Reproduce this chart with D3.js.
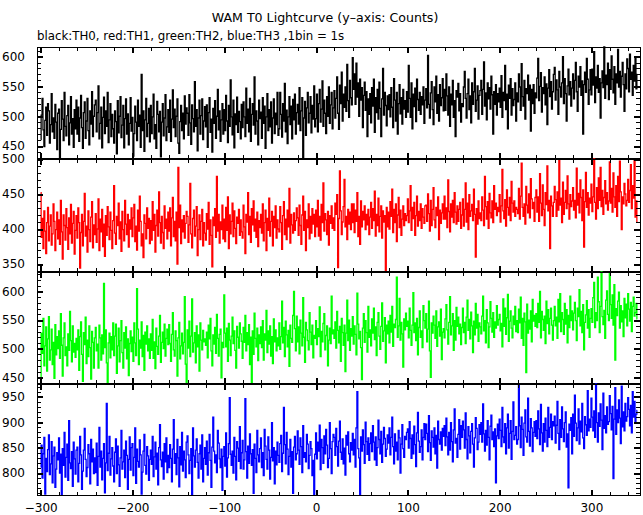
<!DOCTYPE html>
<html><head><meta charset="utf-8">
<script src="https://cdn.jsdelivr.net/npm/d3@7"></script>
<style>body{margin:0;background:#fff}svg{display:block}</style>
</head><body><svg id="c" width="643" height="515"></svg>
<script>
const TITLE = "WAM T0 Lightcurve (y\u2013axis: Counts)";
const SUBTITLE = "black:TH0, red:TH1, green:TH2, blue:TH3 ,1bin = 1s";
const binStart = -300; // first bin time (s), 1 bin = 1 s
const xMajorTicks = [-300, -200, -100, 0, 100, 200, 300];
const seriesNames = ["TH0", "TH1", "TH2", "TH3"];
const seriesColors = ["#000000", "#ff0000", "#00ff00", "#0000ff"];
const yMajorTicks = [[450, 500, 550, 600], [350, 400, 450, 500], [450, 500, 550, 600], [800, 850, 900, 950]];

const th0 = [
461,502,530,477,449,493,515,468,521,509,455,486,538,474,497,463,520,490,444,505,
512,431,478,526,495,459,540,483,467,501,518,452,489,533,470,496,448,511,479,527,
470,515,458,497,535,481,446,506,524,463,492,530,476,452,509,487,541,466,500,519,
527,474,506,551,462,488,515,447,498,532,471,509,483,540,456,494,521,466,503,479,
455,509,491,437,526,472,500,533,464,485,518,447,496,529,470,504,452,488,531,475,
498,433,471,517,490,459,527,483,502,448,570,476,509,441,494,530,466,488,513,457,
518,471,499,537,462,486,446,525,503,474,508,432,490,521,467,497,536,459,482,511,
473,527,458,495,544,481,512,466,500,529,455,438,491,518,476,505,462,534,487,514,
505,468,536,489,453,519,496,474,558,483,511,442,497,527,470,501,529,461,492,516,
482,519,448,506,531,473,495,440,513,488,526,463,500,545,477,509,458,494,521,470,
511,476,535,492,456,518,483,561,499,469,527,447,504,486,532,473,508,491,462,520,
481,524,499,466,547,488,512,474,530,458,503,521,485,566,470,509,492,452,527,496,
507,463,531,488,517,446,499,538,476,511,482,524,455,497,529,471,505,486,540,468,
479,540,503,465,521,492,555,474,510,454,499,533,486,517,462,528,494,537,470,506,
520,487,548,476,509,531,430,497,525,468,514,540,489,505,533,472,518,495,551,482,
496,537,474,521,545,490,512,559,483,527,505,471,533,500,549,488,519,540,479,514,
543,497,530,566,505,478,552,521,574,492,537,515,549,508,587,526,498,560,531,519,
598,545,571,520,589,532,556,500,562,527,548,481,535,557,510,541,466,529,503,538,
489,548,517,562,473,531,506,545,495,557,513,466,529,580,502,540,518,484,534,511,
536,499,548,515,481,563,527,492,540,470,521,553,504,531,487,545,512,526,498,541,
507,585,530,498,556,479,537,516,547,491,562,528,510,540,503,533,519,549,488,527,
546,514,602,520,497,539,558,511,486,549,524,567,505,536,492,553,518,531,563,509,
545,510,571,534,502,549,483,537,519,560,498,526,466,543,532,555,509,538,490,521,
516,549,575,530,497,538,562,511,534,489,556,520,541,580,508,527,551,495,535,543,
560,503,545,591,517,539,494,556,529,548,512,567,536,470,541,520,553,502,538,524,
547,515,568,498,540,526,585,511,537,479,552,530,563,502,546,518,528,556,492,539,
524,571,549,510,588,533,517,560,495,546,538,569,527,552,475,545,521,553,505,539,
531,564,597,526,550,573,507,548,538,566,519,554,486,547,578,533,558,512,541,570,
582,527,561,544,503,575,549,532,556,600,521,563,538,492,551,579,536,558,517,547,
571,529,560,590,541,508,567,549,583,535,559,470,553,574,540,597,562,520,544,578,
536,579,552,608,523,566,547,585,540,563,497,556,576,548,616,530,569,553,589,528,
578,545,601,562,539,583,520,571,556,612,549,575,532,567,590,553,508,571,546,596,
580,541,604,562,574,535,585,559,599,546,570
];

const th1 = [
452,388,415,372,426,397,365,409,431,383,404,420,377,393,436,411,369,399,424,386,
413,378,441,396,357,420,405,384,429,402,371,416,393,435,380,408,425,364,398,419,
387,430,409,344,395,421,376,411,451,390,404,367,426,399,382,417,439,373,406,392,
422,381,400,443,369,414,396,428,375,407,361,419,391,432,403,385,424,398,372,412,
462,394,378,418,405,437,386,410,368,425,399,383,441,407,392,421,374,413,400,430,
389,416,435,382,404,370,427,397,447,411,376,393,359,420,408,386,430,401,415,379,
412,384,439,398,421,367,405,427,390,453,409,380,418,395,372,433,401,414,386,424,
397,430,376,416,445,389,411,383,424,350,488,402,434,379,413,396,419,387,408,425,
418,381,406,465,393,373,415,427,390,404,432,362,399,420,385,411,428,376,409,394,
384,422,400,438,378,413,391,346,417,405,429,388,475,397,421,380,410,399,434,386,
414,382,431,398,446,372,420,393,411,437,389,426,401,379,417,408,428,391,413,396,
387,434,403,365,421,410,452,392,418,381,429,406,440,397,414,388,424,375,412,402,
421,394,436,383,409,427,369,415,398,444,390,411,425,376,418,402,433,387,413,400,
396,432,409,371,419,439,392,414,385,427,403,458,380,421,406,394,423,398,412,430,
416,391,434,405,378,420,447,398,425,369,413,402,436,386,418,394,429,407,421,389,
427,403,441,390,418,384,435,409,466,397,422,413,392,425,377,419,408,433,401,416,
398,437,421,449,345,415,483,426,392,410,432,471,403,418,385,428,407,424,399,436,
409,436,395,427,411,452,389,418,378,440,403,425,413,433,399,421,406,428,392,417,
438,401,429,412,454,390,421,405,444,396,418,433,387,426,410,419,340,431,403,424,
400,439,418,457,395,428,409,436,382,420,445,402,427,391,414,433,405,422,412,419,
443,409,426,462,398,431,415,438,391,419,447,404,425,412,436,401,429,417,408,433,
434,411,450,422,397,441,405,428,459,413,402,431,419,446,385,427,408,423,436,414,
447,414,430,402,470,425,396,436,417,441,409,452,424,407,433,411,428,438,401,420,
443,404,428,466,410,437,399,449,418,426,435,412,457,421,360,429,407,440,415,423,
412,446,427,405,475,432,414,439,401,451,423,416,440,409,462,428,437,419,431,425,
449,410,433,485,426,415,442,404,456,431,420,445,412,468,437,424,440,418,431,428,
422,458,414,447,494,431,418,436,407,461,434,423,450,416,472,443,429,438,411,445,
456,424,446,411,479,437,419,463,428,405,452,435,490,426,441,372,447,433,418,438,
461,442,418,453,427,498,434,444,409,467,421,438,455,429,476,436,414,449,432,440,
459,427,441,416,487,434,451,423,470,445,412,456,374,439,481,431,452,420,444,437,
464,425,446,500,438,414,459,429,473,441,488,432,455,421,445,469,436,452,427,440,
496,437,458,424,480,446,431,462,418,475,439,497,453,399,446,436,465,450,433,441,
471,438,455,492,429,462,444,498,417,440,410
];

const th2 = [
445,527,492,553,470,505,538,461,517,556,480,498,534,472,511,448,542,489,521,500,
531,483,561,506,452,519,545,488,503,470,526,497,565,514,477,540,494,509,485,518,
498,533,462,521,547,490,443,528,507,555,474,515,486,540,502,447,530,511,466,519,
537,496,508,466,541,519,480,524,491,614,502,533,475,441,510,527,484,521,498,545,
488,522,543,457,505,536,477,514,549,493,466,528,501,538,482,517,453,509,531,495,
520,478,545,510,488,605,534,472,515,501,547,486,523,462,529,508,540,496,517,483,
526,497,551,483,512,465,536,504,490,522,558,476,511,529,500,543,487,518,534,507,
542,509,478,525,563,498,487,531,514,452,519,546,482,505,527,491,511,591,473,440,
533,501,548,486,522,587,494,510,528,475,540,503,524,461,545,515,498,532,512,517,
506,529,484,541,517,553,496,470,524,508,537,492,560,518,487,525,534,449,511,502,
594,527,503,536,478,544,515,488,522,555,509,531,497,466,539,520,501,545,526,513,
483,537,511,558,496,528,507,542,472,520,441,531,490,562,518,503,536,479,524,509,
538,502,549,480,526,515,567,493,531,508,540,487,521,474,552,512,533,496,519,505,
545,499,521,583,510,537,486,548,524,503,532,469,541,518,511,558,600,535,496,557,
512,538,491,550,527,505,589,520,476,546,533,514,498,563,529,507,541,484,523,518,
549,507,535,521,573,486,530,512,544,561,498,523,540,470,515,536,509,592,526,533,
518,547,501,565,532,510,539,478,553,528,506,541,460,527,585,514,550,497,535,522,
556,508,540,525,489,597,543,517,530,502,446,536,561,511,549,528,494,574,520,533,
505,552,527,571,516,538,488,546,563,522,499,539,580,513,531,554,475,541,526,548,
510,558,529,574,504,543,537,551,625,520,540,588,515,546,526,468,552,533,562,539,
548,519,571,532,506,541,598,528,545,514,553,489,537,566,520,531,502,575,549,536,
561,512,534,583,496,450,545,527,557,541,518,566,504,538,547,522,569,481,529,535,
519,552,577,533,508,546,591,524,540,561,497,549,515,572,539,555,526,543,507,537,
571,528,546,509,555,585,532,551,517,564,540,493,548,524,579,536,560,513,545,538,
526,557,592,531,549,510,568,545,502,538,582,553,529,563,520,547,536,575,541,551,
560,531,544,503,587,539,571,525,554,595,513,548,566,536,519,557,542,574,530,549,
528,569,545,590,518,553,506,562,547,458,578,527,550,534,566,512,586,548,558,539,
561,537,579,546,600,519,565,551,532,557,509,583,544,568,526,553,571,541,515,549,
574,540,555,518,586,547,596,530,563,551,525,579,543,568,510,558,537,592,549,566,
533,562,581,549,514,571,556,603,540,565,528,577,498,546,559,584,536,568,520,553,
570,546,589,616,537,563,549,625,582,528,574,634,556,542,567,518,585,601,560,549,
631,577,553,594,541,612,480,570,558,583,599,536,575,547,566,521,588,554,578,540,
596,569,548,581,530,574,590,557,563,579,552
];

const th3 = [
812,855,790,838,870,759,829,803,846,875,797,818,862,781,834,851,772,808,840,826,
869,800,837,758,848,815,880,792,831,857,786,903,820,809,842,774,861,828,798,845,
851,783,819,872,836,768,804,845,888,827,793,811,856,838,779,866,822,847,799,830,
801,859,776,833,890,812,843,787,829,858,761,820,937,805,839,872,796,828,850,814,
783,841,867,799,853,816,774,830,884,808,822,845,791,863,835,768,827,871,806,850,
858,795,831,889,780,847,823,812,865,836,759,802,843,876,815,798,852,834,786,827,
845,817,872,793,832,861,808,839,777,850,895,826,813,841,788,858,822,869,801,835,
811,856,829,783,847,905,819,838,797,866,830,773,852,816,880,804,843,826,791,861,
873,836,799,825,848,758,889,834,812,845,867,821,790,838,855,808,875,783,829,850,
817,863,796,840,876,825,772,851,910,843,820,836,801,884,859,828,811,847,766,833,
852,814,879,792,830,858,948,837,815,843,800,870,833,787,862,849,823,891,809,840,
864,808,826,946,842,790,853,819,877,838,815,846,760,857,829,801,884,836,822,848,
869,811,840,795,886,853,827,808,871,845,788,831,899,824,850,779,843,816,861,835,
821,858,874,803,839,929,856,818,880,847,797,833,866,812,842,760,851,872,826,838,
883,845,817,869,852,801,893,831,840,822,876,857,809,835,862,848,795,825,758,837,
879,828,861,843,894,807,866,850,819,873,838,886,855,811,829,899,848,799,862,876,
870,835,888,852,814,863,902,841,827,867,818,849,796,874,855,881,838,822,860,845,
878,836,866,812,889,960,848,830,757,871,843,885,856,819,900,862,837,869,825,858,
879,842,893,861,826,871,815,850,904,866,838,882,821,857,890,868,833,847,875,859,
889,836,870,910,852,818,877,843,861,826,884,869,800,857,895,848,831,872,866,880,
887,849,901,868,829,875,838,892,856,813,879,919,863,841,852,885,826,870,897,866,
896,878,842,913,860,825,883,870,851,889,838,874,810,902,866,857,881,845,888,872,
893,854,908,871,836,880,845,899,862,822,885,926,859,868,831,876,905,847,893,870,
902,885,849,918,866,828,891,873,840,882,897,857,812,869,909,888,846,861,895,876,
899,861,936,877,843,884,855,903,870,826,892,914,866,881,852,887,781,873,896,868,
906,884,852,929,871,860,897,838,889,916,849,878,903,827,882,940,866,874,891,857,
866,973,893,850,910,886,835,898,924,871,861,947,882,853,907,889,842,880,901,872,
903,868,922,887,856,935,879,843,897,861,908,884,852,929,870,890,916,866,901,893,
912,859,894,941,878,846,905,870,930,887,862,899,920,851,877,771,896,884,909,838,
916,872,953,898,864,889,926,857,902,881,937,869,848,911,895,874,962,883,906,890,
947,910,883,922,870,975,899,861,918,892,936,904,846,957,888,913,879,930,896,901,
952,917,885,931,789,906,968,876,924,899,944,908,858,971,891,920,883,937,902,911,
948,925,893,933,879,960,910,941,898,916,923
];

const seriesData = [th0, th1, th2, th3];

const FONT = "DejaVu Sans";
const FS = 12;
const svg = d3.select("#c");
const plotLeft = 37, plotRight = 641, plotTop = 47, panelPitch = 112.3;
const x = d3.scaleLinear().domain([-304, 354]).range([plotLeft, plotRight]);
const xMinor = d3.range(-300, 354, 20).filter(v => !xMajorTicks.includes(v));

svg.append("text").attr("x", 325).attr("y", 22).attr("text-anchor", "middle")
  .attr("font-family", FONT).attr("font-size", 12.6).text(TITLE);
svg.append("text").attr("x", 37).attr("y", 40)
  .attr("font-family", FONT).attr("font-size", 11.8).text(SUBTITLE);

function styleAxis(g, width) {
  g.select(".domain").remove();
  g.selectAll("line").attr("stroke-width", width).attr("shape-rendering", "crispEdges");
  g.selectAll("text").attr("font-family", FONT).attr("font-size", FS).attr("fill", "#000");
}

seriesData.forEach((vals, i) => {
  const y0 = Math.round(plotTop + i * panelPitch);
  const y1 = Math.round(plotTop + (i + 1) * panelPitch) - 1;
  const ext = d3.extent(vals);
  const y = d3.scaleLinear().domain(ext).range([y1, y0]);
  const yMinor = d3.range(Math.ceil(ext[0] / 10) * 10, ext[1] + 0.001, 10)
    .filter(v => !yMajorTicks[i].includes(v));
  const g = svg.append("g").attr("class", "panel-" + seriesNames[i]);

  const line = d3.line().x((d, j) => x(binStart + j)).y(d => y(d)).curve(d3.curveStep);
  g.append("path").datum(vals).attr("d", line).attr("fill", "none")
    .attr("stroke", seriesColors[i]).attr("stroke-width", 1.3);

  g.append("rect").attr("x", plotLeft + 0.5).attr("y", y0 + 0.5)
    .attr("width", plotRight - plotLeft - 1).attr("height", y1 - y0)
    .attr("fill", "none").attr("stroke", "#000").attr("stroke-width", 1)
    .attr("shape-rendering", "crispEdges");

  g.append("g").attr("transform", `translate(${plotLeft},0)`)
    .call(d3.axisLeft(y).tickValues(yMajorTicks[i]).tickSize(-6).tickPadding(12).tickFormat(d3.format("d")))
    .call(a => styleAxis(a, 2));
  g.append("g").attr("transform", `translate(${plotLeft},0)`)
    .call(d3.axisLeft(y).tickValues(yMinor).tickSize(-4).tickFormat(""))
    .call(a => styleAxis(a, 1));
  g.append("g").attr("transform", `translate(${plotRight - 1},0)`)
    .call(d3.axisRight(y).tickValues(yMajorTicks[i]).tickSize(-6).tickFormat(""))
    .call(a => styleAxis(a, 2));
  g.append("g").attr("transform", `translate(${plotRight - 1},0)`)
    .call(d3.axisRight(y).tickValues(yMinor).tickSize(-4).tickFormat(""))
    .call(a => styleAxis(a, 1));

  g.append("g").attr("transform", `translate(0,${y0})`)
    .call(d3.axisTop(x).tickValues(xMajorTicks).tickSize(-6).tickFormat(""))
    .call(a => styleAxis(a, 2));
  g.append("g").attr("transform", `translate(0,${y0})`)
    .call(d3.axisTop(x).tickValues(xMinor).tickSize(-4).tickFormat(""))
    .call(a => styleAxis(a, 1));
  const last = i === seriesData.length - 1;
  g.append("g").attr("transform", `translate(0,${y1 + 1})`)
    .call(d3.axisBottom(x).tickValues(xMajorTicks).tickSize(-6).tickPadding(7)
      .tickFormat(last ? d3.format("d") : ""))
    .call(a => styleAxis(a, 2));
  g.append("g").attr("transform", `translate(0,${y1 + 1})`)
    .call(d3.axisBottom(x).tickValues(xMinor).tickSize(-4).tickFormat(""))
    .call(a => styleAxis(a, 1));
});
</script>
</body></html>
